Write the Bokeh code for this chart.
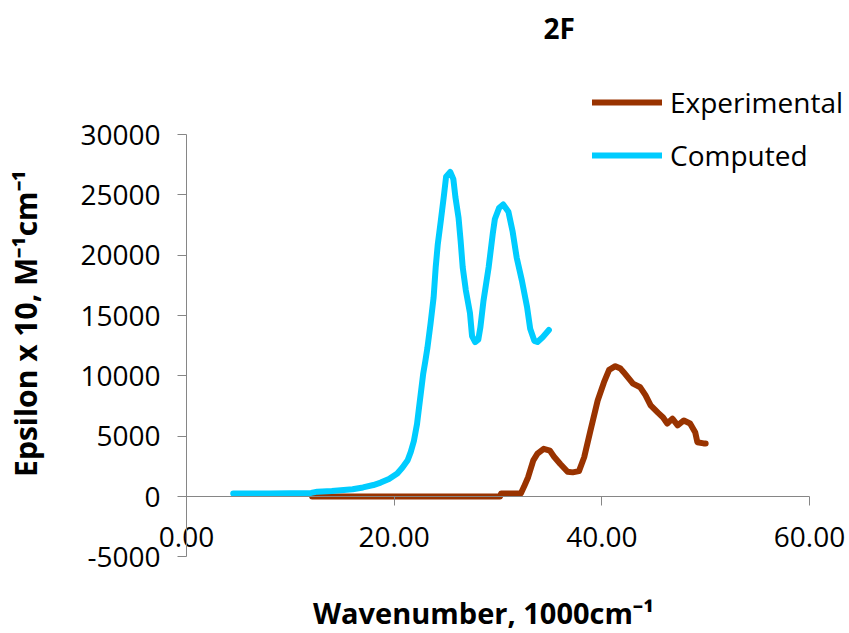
import math
from bokeh.plotting import figure
from bokeh.models import (Range1d, FixedTicker, Legend, LegendItem, Label,
                          PrintfTickFormatter, LinearAxis)
from bokeh.embed import file_html
from bokeh.resources import INLINE

# ---- data ----
exp_x = [12.1, 16.0, 20.0, 25.0, 30.2, 30.3, 32.2, 32.5, 32.9, 33.4, 33.8, 34.4, 35.0, 35.4,
         36.0, 36.7, 37.2, 37.8, 38.3, 38.9, 39.6, 40.2, 40.7, 41.3, 41.8, 42.1, 43.0, 43.7,
         44.2, 44.7, 45.4, 45.9, 46.3, 46.8, 47.3, 47.9, 48.5, 49.0, 49.2, 49.8, 50.0]
exp_y = [0, 0, 0, 0, 0, 250, 250, 800, 1600, 3000, 3550, 3950, 3800, 3300,
         2700, 2050, 2000, 2100, 3250, 5450, 7950, 9450, 10500, 10800, 10600, 10300, 9350, 9050,
         8400, 7550, 6950, 6550, 6050, 6450, 5900, 6300, 6050, 5300, 4500, 4400, 4400]

comp_x = [4.5, 8.0, 12.0, 12.6, 14.0, 16.0, 17.0, 18.0, 18.7, 19.5, 20.3, 20.8, 21.3, 21.6,
          21.9, 22.2, 22.4, 22.6, 22.8, 23.0, 23.2, 23.5, 23.8, 24.0, 24.2, 24.5, 24.8, 25.0,
          25.4, 25.7, 25.9, 26.2, 26.4, 26.6, 26.9, 27.3, 27.5, 27.8, 28.1, 28.3, 28.6, 29.1,
          29.5, 29.7, 30.1, 30.5, 31.0, 31.4, 31.8, 32.3, 32.8, 33.1, 33.5, 33.8, 34.3, 34.9]
comp_y = [250, 250, 300, 400, 450, 600, 750, 950, 1150, 1450, 1900, 2400, 3000, 3700,
          4600, 6000, 7400, 8800, 10200, 11200, 12300, 14300, 16500, 19000, 20900, 22900, 25000, 26500,
          26900, 26300, 24800, 23100, 21200, 19000, 17100, 15200, 13300, 12800, 13000, 14000, 16200, 19000,
          21800, 23000, 23900, 24200, 23600, 22000, 19800, 17900, 15700, 13900, 12900, 12800, 13200, 13800]

x_ticks = [0, 20, 40, 60]
y_ticks = [-5000, 0, 5000, 10000, 15000, 20000, 25000, 30000]

series_names = ["Experimental", "Computed"]
series_colors = ["#993300", "#00CCFF"]

title_text = "2F"
x_title = "Wavenumber, 1000cm\u207b\u00b9"
y_title = "Epsilon x 10, M\u207b\u00b9cm\u207b\u00b9"

FONT = "Open Sans"
AXIS_GRAY = "#868686"
W, H = 849, 633

# ---- layout: the plot frame fills the canvas; axes are drawn at fixed data locations ----
# pixel placement of the axes (x=0..60 spans px 186..809, y=0..30000 spans px 496..134)
PX_X0, PX_X60 = 186, 809
PX_Y0, PX_Y30K = 496, 134
KX = (PX_X60 - PX_X0) / 60.0
KY = (PX_Y0 - PX_Y30K) / 30000.0


def px_x(px):
    return (px - PX_X0) / KX


def px_y(py):
    return (PX_Y0 - py) / KY


p = figure(width=W, height=H, output_backend="svg", toolbar_location=None, title=None,
           x_range=Range1d(px_x(0), px_x(W)), y_range=Range1d(px_y(H), px_y(0)),
           x_axis_location=None, y_axis_location=None,
           min_border_left=0, min_border_right=0, min_border_top=0, min_border_bottom=0)
p.outline_line_color = None
p.grid.visible = False
p.background_fill_color = "white"
p.border_fill_color = "white"

# y axis at x = 0
ya = LinearAxis(fixed_location=0, bounds=(-5000, 30000), ticker=FixedTicker(ticks=y_ticks),
                formatter=PrintfTickFormatter(format="%d"),
                major_tick_in=0, major_tick_out=9, minor_tick_line_color=None,
                axis_line_color=AXIS_GRAY, major_tick_line_color=AXIS_GRAY,
                major_label_standoff=17, major_label_text_font=FONT,
                major_label_text_font_size="28px", major_label_text_color="black")
p.add_layout(ya, "left")

# x axis line + ticks crossing at y = 0
xa = LinearAxis(fixed_location=0, bounds=(0, 60), ticker=FixedTicker(ticks=x_ticks),
                major_tick_in=0, major_tick_out=9, minor_tick_line_color=None,
                axis_line_color=AXIS_GRAY, major_tick_line_color=AXIS_GRAY,
                major_label_text_alpha=0, major_label_text_font_size="1px")
p.add_layout(xa, "below")

# x tick labels at the bottom of the plot area (Excel "low" label position)
xl = LinearAxis(fixed_location=-5000, ticker=FixedTicker(ticks=x_ticks),
                formatter=PrintfTickFormatter(format="%.2f"),
                axis_line_color=None, major_tick_line_color=None, minor_tick_line_color=None,
                major_tick_in=0, major_tick_out=0, minor_tick_out=0,
                major_label_standoff=-30, major_label_text_font=FONT,
                major_label_text_font_size="28px", major_label_text_color="black")
p.add_layout(xl, "below")

# titles
p.add_layout(Label(x=px_x(543), y=px_y(27), text=title_text, text_align="left",
                   text_baseline="alphabetic", text_font=FONT, text_font_size="28px",
                   text_font_style="bold", text_color="black"))
p.add_layout(Label(x=px_x(483), y=px_y(612), text=x_title, text_align="center",
                   text_baseline="alphabetic", text_font=FONT, text_font_size="29px",
                   text_font_style="bold", text_color="black"))
p.add_layout(Label(x=px_x(25), y=px_y(323), text=y_title, angle=math.pi / 2,
                   text_align="center", text_baseline="alphabetic", text_font=FONT,
                   text_font_size="30px", text_font_style="bold", text_color="black"))

r1 = p.line(exp_x, exp_y, line_color=series_colors[0], line_width=6,
            line_join="round", line_cap="round")
r2 = p.line(comp_x, comp_y, line_color=series_colors[1], line_width=6,
            line_join="round", line_cap="round")

legend = Legend(items=[LegendItem(label=series_names[0], renderers=[r1]),
                       LegendItem(label=series_names[1], renderers=[r2])],
                location=(592, 459), glyph_width=70, glyph_height=30, label_height=30,
                label_standoff=8, spacing=15, padding=0, margin=0,
                border_line_color=None, background_fill_alpha=0,
                label_text_font=FONT, label_text_font_size="28px", label_text_color="black")
p.add_layout(legend)

open("out.html", "w").write(file_html(p, INLINE))
